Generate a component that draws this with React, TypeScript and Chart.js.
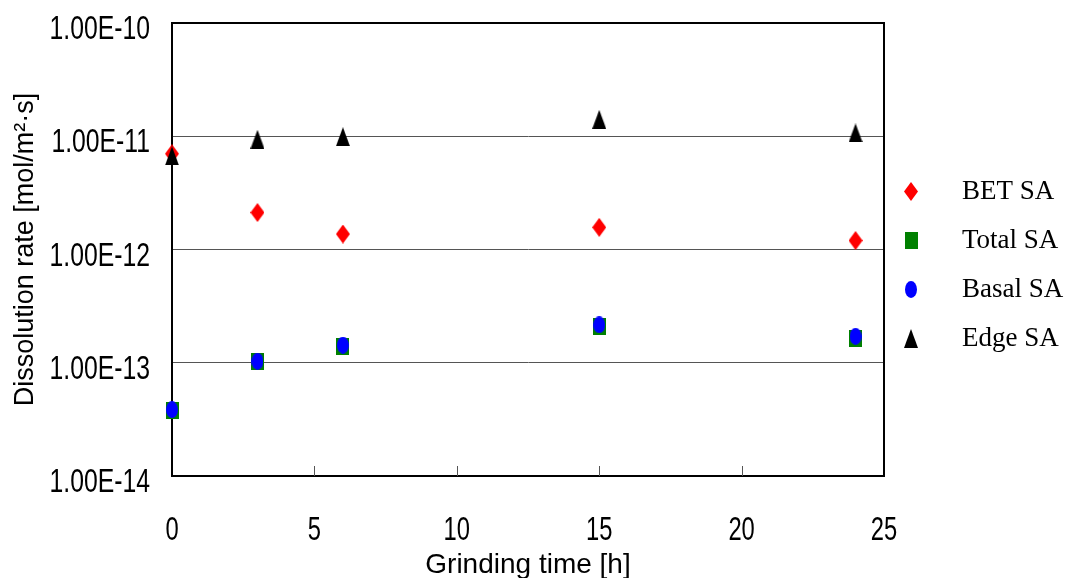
import React, { useEffect, useRef } from "react";
import { Chart, registerables } from "chart.js";

Chart.register(...registerables);

// ---- data ----
const grindingTimes = [0, 3, 6, 15, 24];
const seriesNames = ["BET SA", "Total SA", "Basal SA", "Edge SA"];
const betSA = [7.0e-12, 2.12e-12, 1.37e-12, 1.57e-12, 1.2e-12];
const totalSA = [3.8e-14, 1.02e-13, 1.38e-13, 2.1e-13, 1.65e-13];
const basalSA = [3.85e-14, 1.03e-13, 1.43e-13, 2.16e-13, 1.71e-13];
const edgeSA = [6.7e-12, 9.4e-12, 9.9e-12, 1.41e-11, 1.07e-11];
const yTickValues = [1e-14, 1e-13, 1e-12, 1e-11, 1e-10];
const xTickStep = 5;
const xMin = 0;
const xMax = 25;
const xTitle = "Grinding time [h]";
const yTitle = "Dissolution rate [mol/m²·s]";

const TICK_FONT = "'Liberation Sans', Arial, sans-serif";
const TITLE_FONT = "'Liberation Sans', Arial, sans-serif";
const LEGEND_FONT = "'Liberation Serif', 'Times New Roman', serif";

const fmtY = (v: number) => Number(v).toExponential(2).toUpperCase();

function makeMarker(w: number, h: number, color: string, shape: string): HTMLCanvasElement {
  const c = document.createElement("canvas");
  c.width = w;
  c.height = h;
  const g = c.getContext("2d")!;
  g.fillStyle = color;
  g.beginPath();
  if (shape === "diamond") {
    g.moveTo(w / 2, 0);
    g.lineTo(w, h / 2);
    g.lineTo(w / 2, h);
    g.lineTo(0, h / 2);
    g.closePath();
    g.fill();
  } else if (shape === "triangle") {
    g.moveTo(w / 2, 0);
    g.lineTo(w, h);
    g.lineTo(0, h);
    g.closePath();
    g.fill();
  } else if (shape === "ellipse") {
    g.ellipse(w / 2, h / 2, w / 2, h / 2, 0, 0, Math.PI * 2);
    g.fill();
  } else {
    g.fillRect(0, 0, w, h);
  }
  return c;
}

export default function App() {
  const ref = useRef<HTMLCanvasElement | null>(null);

  useEffect(() => {
    if (!ref.current) return;
    const markers = [
      makeMarker(14, 19, "#ff0000", "diamond"),
      makeMarker(13, 17, "#008000", "square"),
      makeMarker(12, 17, "#0000ff", "ellipse"),
      makeMarker(14, 19, "#000000", "triangle"),
    ];
    const seriesValues = [betSA, totalSA, basalSA, edgeSA];
    const drawOrder = [3, 2, 1, 0];

    const framePlugin = {
      id: "frameAndTicks",
      beforeDatasetsDraw(chart: any) {
        const { ctx, chartArea } = chart;
        const xs = chart.scales.x;
        ctx.save();
        ctx.strokeStyle = "#555555";
        ctx.lineWidth = 1;
        xs.ticks.forEach((t: any) => {
          if (t.value <= xMin || t.value >= xMax) return;
          const px = Math.round(xs.getPixelForValue(t.value)) + 0.5;
          ctx.beginPath();
          ctx.moveTo(px, chartArea.bottom);
          ctx.lineTo(px, chartArea.bottom - 10);
          ctx.stroke();
        });
        ctx.strokeStyle = "#000000";
        ctx.lineWidth = 2;
        ctx.beginPath();
        ctx.moveTo(chartArea.left, chartArea.top);
        ctx.lineTo(chartArea.right, chartArea.top);
        ctx.lineTo(chartArea.right, chartArea.bottom);
        ctx.stroke();
        ctx.restore();
      },
      afterDraw(chart: any) {
        const { ctx, chartArea } = chart;
        const xs = chart.scales.x;
        const ys = chart.scales.y;
        ctx.save();
        // tick labels (narrow gothic look)
        ctx.fillStyle = "#000000";
        ctx.font = "33px " + TICK_FONT;
        ctx.textBaseline = "alphabetic";
        ys.ticks.forEach((t: any) => {
          const py = ys.getPixelForValue(t.value);
          ctx.save();
          ctx.translate(chartArea.left - 22, py + 16);
          ctx.scale(0.75, 1);
          ctx.textAlign = "right";
          ctx.fillText(fmtY(t.value), 0, 0);
          ctx.restore();
        });
        xs.ticks.forEach((t: any) => {
          const px = xs.getPixelForValue(t.value);
          ctx.save();
          ctx.translate(px, chartArea.bottom + 64);
          ctx.scale(0.72, 1);
          ctx.textAlign = "center";
          ctx.fillText(String(t.value), 0, 0);
          ctx.restore();
        });
        // legend
        const mx = chartArea.right + 27;
        const tx = chartArea.right + 78;
        const y0 = 191;
        const step = 49;
        ctx.font = "27px " + LEGEND_FONT;
        ctx.textBaseline = "middle";
        ctx.textAlign = "left";
        seriesNames.forEach((name, i) => {
          const y = y0 + i * step;
          const m = markers[i];
          ctx.drawImage(m, Math.round(mx - m.width / 2), Math.round(y - m.height / 2));
          ctx.fillText(name, tx, y + 1);
        });
        ctx.restore();
      },
    };

    const chart = new Chart(ref.current, {
      type: "scatter",
      data: {
        datasets: seriesNames.map((name, i) => ({
          label: name,
          data: grindingTimes.map((t, j) => ({ x: t, y: seriesValues[i][j] })),
          pointStyle: markers[i] as any,
          pointRadius: 8,
          pointHoverRadius: 8,
          backgroundColor: "#000",
          borderWidth: 0,
          showLine: false,
          clip: false as any,
          order: drawOrder[i],
        })),
      },
      options: {
        responsive: false,
        animation: false,
        events: [],
        layout: { padding: { left: 0, top: 23, right: 182, bottom: 0 } },
        plugins: {
          legend: { display: false },
          tooltip: { enabled: false },
        },
        scales: {
          x: {
            type: "linear",
            min: xMin,
            max: xMax,
            ticks: { stepSize: xTickStep, display: false },
            grid: { display: false, drawTicks: false },
            border: { display: true, color: "#000", width: 2 },
            title: {
              display: true,
              text: xTitle,
              color: "#000",
              font: { family: TITLE_FONT, size: 28 },
              padding: { top: 0, bottom: -4 },
            },
            afterFit(scale: any) {
              scale.height = 102;
              scale.paddingLeft = 0;
              scale.paddingRight = 0;
            },
          },
          y: {
            type: "logarithmic",
            min: yTickValues[0],
            max: yTickValues[yTickValues.length - 1],
            afterBuildTicks(scale: any) {
              scale.ticks = yTickValues.map((v) => ({ value: v }));
            },
            ticks: { display: false, callback: (v: any) => fmtY(v) },
            grid: { color: "#555555", lineWidth: 1, drawTicks: false },
            border: { display: true, color: "#000", width: 2 },
            title: {
              display: true,
              text: yTitle,
              color: "#000",
              font: { family: TITLE_FONT, size: 27 },
              padding: { top: 9, bottom: 0 },
            },
            afterFit(scale: any) {
              scale.width = 172;
              scale.paddingTop = 0;
              scale.paddingBottom = 0;
            },
          },
        },
      } as any,
      plugins: [framePlugin],
    });
    return () => chart.destroy();
  }, []);

  return (
    <div style={{ position: "fixed", left: 0, top: 0, width: 1066, height: 578, background: "#fff" }}>
      <canvas ref={ref} width={1066} height={578} style={{ display: "block" }} />
    </div>
  );
}
